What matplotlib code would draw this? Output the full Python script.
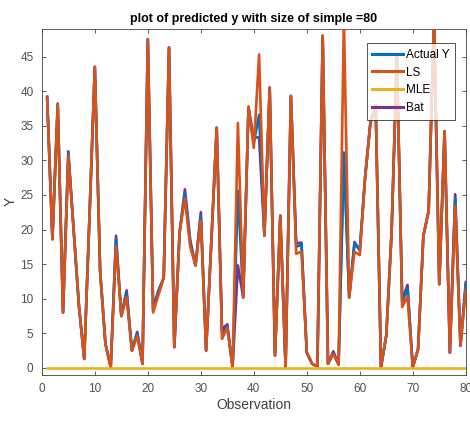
import numpy as np
import matplotlib
matplotlib.use("Agg")
import matplotlib.pyplot as plt

OBSERVATIONS = list(range(1, 81))

ACTUAL_Y = [39.0, 18.6, 38.0, 8.0, 31.0, 20.0, 9.0, 1.3, 22.0, 43.5,
            14.0, 3.5, 0.1, 18.5, 7.5, 10.8, 2.5, 5.0, 0.6, 47.5,
            8.3, 11.0, 13.0, 46.3, 3.0, 19.6, 25.2, 18.0, 14.8, 22.0,
            2.5, 18.5, 34.7, 5.0, 6.0, 0.1, 25.6, 10.2, 37.6, 32.5,
            36.6, 19.1, 40.5, 1.8, 22.0, 0.1, 39.3, 17.5, 17.8, 2.2,
            0.6, 0.2, 48.0, 0.6, 2.1, 0.5, 31.1, 10.2, 18.0, 17.0,
            27.5, 35.4, 38.0, 0.1, 4.7, 19.6, 45.0, 9.5, 11.5, 0.1,
            2.7, 19.1, 22.7, 50.5, 12.1, 34.2, 2.2, 24.5, 3.2, 12.0]

LS = [39.0, 18.6, 38.0, 8.0, 30.6, 20.0, 9.0, 1.3, 22.0, 43.5,
      14.0, 3.5, 0.1, 17.6, 7.5, 10.2, 2.5, 4.6, 0.6, 47.5,
      8.0, 10.5, 13.0, 46.3, 3.0, 19.6, 24.5, 17.5, 14.8, 21.3,
      2.5, 18.5, 34.7, 4.2, 5.8, 0.1, 35.4, 10.2, 37.8, 31.8,
      45.3, 19.1, 40.5, 1.8, 22.0, 0.1, 39.3, 16.5, 16.8, 2.2,
      0.6, 0.2, 48.0, 0.6, 2.0, 0.5, 50.5, 10.2, 16.8, 16.3,
      27.5, 35.4, 38.0, 0.1, 4.7, 19.6, 45.0, 8.8, 10.3, 0.1,
      2.7, 19.1, 22.7, 50.5, 12.1, 34.2, 2.2, 23.4, 3.2, 11.2]

MLE = [0.0] * 80

BAT = [39.2, 18.6, 38.2, 8.0, 31.3, 20.0, 9.0, 1.3, 22.0, 43.5,
       14.0, 3.5, 0.1, 19.1, 7.5, 11.2, 2.5, 5.2, 0.6, 47.5,
       8.6, 11.2, 13.0, 46.3, 3.0, 19.6, 25.8, 18.5, 14.8, 22.5,
       2.5, 18.5, 34.7, 5.6, 6.3, 0.1, 14.8, 10.2, 37.5, 33.3,
       33.3, 19.1, 40.5, 1.8, 22.0, 0.1, 39.3, 18.0, 18.1, 2.2,
       0.6, 0.2, 48.0, 0.6, 2.4, 0.5, 31.1, 10.2, 18.2, 17.0,
       27.5, 35.4, 38.0, 0.1, 4.7, 19.6, 45.0, 9.8, 12.0, 0.1,
       2.7, 19.1, 22.7, 50.5, 12.1, 34.2, 2.2, 25.1, 3.2, 12.4]

X_TICKS = list(range(0, 81, 10))
Y_TICKS = list(range(0, 46, 5))

plt.rcParams["font.family"] = ["Liberation Sans", "DejaVu Sans"]

fig = plt.figure(figsize=(4.70, 4.24), dpi=100)
ax = fig.add_axes([0.089, 0.116, 0.902, 0.816])

lw = 1.9
ax.plot(OBSERVATIONS, BAT, color="#7E2F8E", lw=lw, zorder=2)
ax.plot(OBSERVATIONS, ACTUAL_Y, color="#0072BD", lw=lw, zorder=3)
ax.plot(OBSERVATIONS, LS, color="#D95319", lw=lw, zorder=4)
ax.plot(OBSERVATIONS, MLE, color="#EDB120", lw=lw, zorder=5)

ax.set_xlim(0, 80)
ax.set_ylim(-1, 49)
ax.set_xticks(X_TICKS)
ax.set_yticks(Y_TICKS)
ax.tick_params(direction="in", length=3, width=0.6, top=True, right=True,
               labelsize=8.5, colors="#404040", labelcolor="#505050", pad=6)
for s in ax.spines.values():
    s.set_color("#404040")
    s.set_linewidth(0.6)

ax.set_title("plot of predicted y with size of simple =80", fontsize=9,
             fontweight="bold", pad=5)
ax.set_xlabel("Observation", fontsize=10, color="#404040", labelpad=2)
ax.set_ylabel("Y", fontsize=10, color="#404040", labelpad=2)

handles = [plt.Line2D([], [], color=c, lw=2.2) for c in
           ["#0072BD", "#D95319", "#EDB120", "#7E2F8E"]]
leg = ax.legend(handles, ["Actual Y", "LS", "MLE", "Bat"], loc="upper right",
                bbox_to_anchor=(0.975, 0.958), fontsize=8.5, frameon=True,
                fancybox=False, edgecolor="#262626", handlelength=2.6,
                borderpad=0.45, labelspacing=0.5, handletextpad=0.3,
                borderaxespad=0.0)
leg.get_frame().set_linewidth(0.7)
leg.set_zorder(10)

fig.savefig("out.png", dpi=100)
